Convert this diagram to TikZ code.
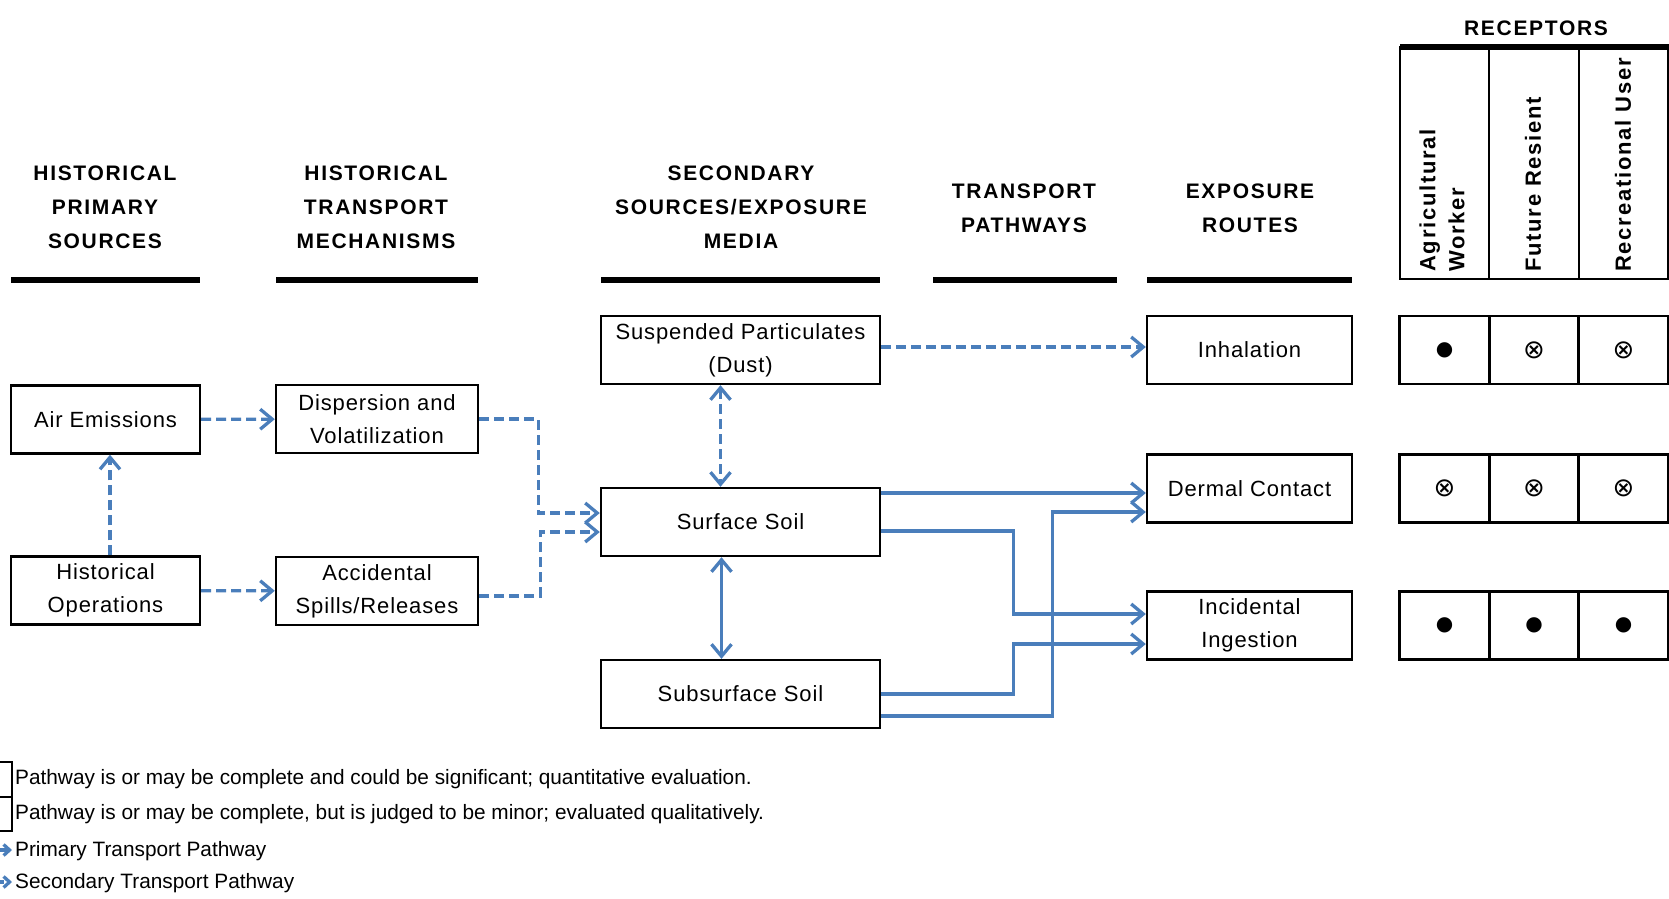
\documentclass[tikz,border=0pt]{standalone}
\usepackage{fontspec}
\setmainfont{Liberation Sans}[LetterSpace=4]
\newfontfamily\headfont{Liberation Sans}[LetterSpace=8]
\newfontfamily\plainfont{Liberation Sans}
\newfontfamily\symfont{DejaVu Sans}
\usetikzlibrary{arrows.meta}
\definecolor{pathblue}{RGB}{74,126,187}

\begin{document}
\begin{tikzpicture}[x=1pt, y=-1pt, >={Straight Barb[length=12pt,width=20pt]},
  box_style/.style={draw=black, line width=2.4pt, inner sep=0pt, minimum width=#1, minimum height=68pt, align=center, font=\fontsize{22}{33}\selectfont},
  box_style/.default=189pt,
  head_style/.style={align=center, inner sep=0pt, font=\headfont\bfseries\fontsize{21}{34}\selectfont},
  rot_style/.style={rotate=90, anchor=west, align=left, inner sep=0pt, font=\headfont\bfseries\fontsize{22}{29}\selectfont},
  cell_style/.style={draw=black, line width=2.7pt, inner sep=0pt, minimum width=89.5pt, minimum height=68pt, font=\symfont\fontsize{26}{26}\selectfont},
  dot_style/.style={cell_style, font=\symfont\fontsize{20}{20}\selectfont},
  legend_style/.style={anchor=base west, inner sep=0pt, font=\plainfont\fontsize{20.8}{24}\selectfont},
  head_rule/.style={line width=5.5pt},
  edge_style/.style={draw=pathblue, line width=3.3pt},
  dash_style/.style={edge_style, dash pattern=on 10pt off 5pt}]
  \useasboundingbox (0,0) rectangle (1669,898);
  % column headings
  \draw
    (105,207)  node[head_style] (h1){HISTORICAL\\PRIMARY\\SOURCES}
    (376,207)  node[head_style] (h2){HISTORICAL\\TRANSPORT\\MECHANISMS}
    (741,207)  node[head_style] (h3){SECONDARY\\SOURCES/EXPOSURE\\MEDIA}
    (1024,208) node[head_style] (h4){TRANSPORT\\PATHWAYS}
    (1250,208) node[head_style] (h5){EXPOSURE\\ROUTES}
    (1536,28)  node[head_style] (h6){RECEPTORS};
  \draw[head_rule] (11,280) -- (200,280);
  \draw[head_rule] (276,280) -- (478,280);
  \draw[head_rule] (601,280) -- (880,280);
  \draw[head_rule] (933,280) -- (1117,280);
  \draw[head_rule] (1147,280) -- (1352,280);
  % receptor heading box
  \draw[line width=2.7pt] (1400,47) rectangle (1668,279);
  \draw[line width=2.7pt] (1489,47) -- (1489,279) (1579,47) -- (1579,279);
  \draw[line width=6pt] (1400,47) -- (1669,47);
  \draw
    (1442,272) node[rot_style] (r1){Agricultural\\Worker}
    (1533,272) node[rot_style] (r2){Future Resient}
    (1623,272) node[rot_style] (r3){Recreational User};
  % boxes
  \draw
    (105.5,419.5) node[box_style] (1){Air Emissions}
    (105.5,590.5) node[box_style] (2){Historical\\Operations}
    (377,419)     node[box_style=202pt] (3){Dispersion and\\Volatilization}
    (377,591)     node[box_style=202pt] (4){Accidental\\Spills/Releases}
    (740.5,350)   node[box_style=279pt] (5){Suspended Particulates\\(Dust)}
    (740.5,522)   node[box_style=279pt] (6){Surface Soil}
    (740.5,694)   node[box_style=279pt] (7){Subsurface Soil}
    (1249.5,350)  node[box_style=205pt] (8){Inhalation}
    (1249.5,488.5) node[box_style=205pt] (9){Dermal Contact}
    (1249.5,625.5) node[box_style=205pt] (10){Incidental\\Ingestion};
  % receptor table
  \draw
    (1444.5,350)   node[dot_style]  (c11){●}
    (1534,350)     node[cell_style] (c12){⊗}
    (1623.5,350)   node[cell_style] (c13){⊗}
    (1444.5,488.5) node[cell_style] (c21){⊗}
    (1534,488.5)   node[cell_style] (c22){⊗}
    (1623.5,488.5) node[cell_style] (c23){⊗}
    (1444.5,625.5) node[dot_style]  (c31){●}
    (1534,625.5)   node[dot_style]  (c32){●}
    (1623.5,625.5) node[dot_style]  (c33){●};
  % legend
  \draw[line width=2.2pt] (0,762) -- (12,762) -- (12,831) -- (0,831) (0,797) -- (12,797);
  \draw
    (15,784) node[legend_style] (l1){Pathway is or may be complete and could be significant; quantitative evaluation.}
    (15,819) node[legend_style] (l2){Pathway is or may be complete, but is judged to be minor; evaluated qualitatively.}
    (15,856) node[legend_style] (l3){Primary Transport Pathway}
    (15,888) node[legend_style] (l4){Secondary Transport Pathway};
  \coordinate (p0) at (-6,850);
  \coordinate (p1) at (12,850);
  \coordinate (s0) at (-6,882);
  \coordinate (s1) at (12,882);
  \begin{scope}[->]
    \draw[edge_style, -{Straight Barb[length=6pt,width=11pt]}] (p0) to (p1);
    \draw[dash_style, -{Straight Barb[length=6pt,width=11pt]}] (s0) to (s1);
    \draw[dash_style] (1) to (3);
    \draw[dash_style] (2) to (4);
    \draw[dash_style] ([xshift=4.5pt]2.north) to ([xshift=4.5pt]1.south);
    \draw[dash_style] (3.east) -- ++(59,0) |- ([yshift=9pt]6.west);
    \draw[dash_style] ([yshift=-5pt]4.east) -- ++(61,0) |- ([yshift=-10pt]6.west);
    \draw[dash_style, <->] ([xshift=-20pt]5.south) to ([xshift=-20pt]6.north);
    \draw[edge_style, <->] ([xshift=-19pt]6.south) to ([xshift=-19pt]7.north);
    \draw[dash_style] ([yshift=3pt]5.east) to ([yshift=3pt]5.east -| 8.west);
    \draw[edge_style] ([yshift=29pt]6.east) to ([yshift=29pt]6.east -| 9.west);
    \draw[edge_style] ([yshift=-9pt]6.east) -- ++(132,0) |- ([yshift=11.5pt]10.west);
    \draw[edge_style] (7.east) -- ++(132,0) |- ([yshift=-18.5pt]10.west);
    \draw[edge_style] ([yshift=-22pt]7.east) -- ++(171,0) |- ([yshift=-23.5pt]9.west);
  \end{scope}
\end{tikzpicture}
\end{document}
